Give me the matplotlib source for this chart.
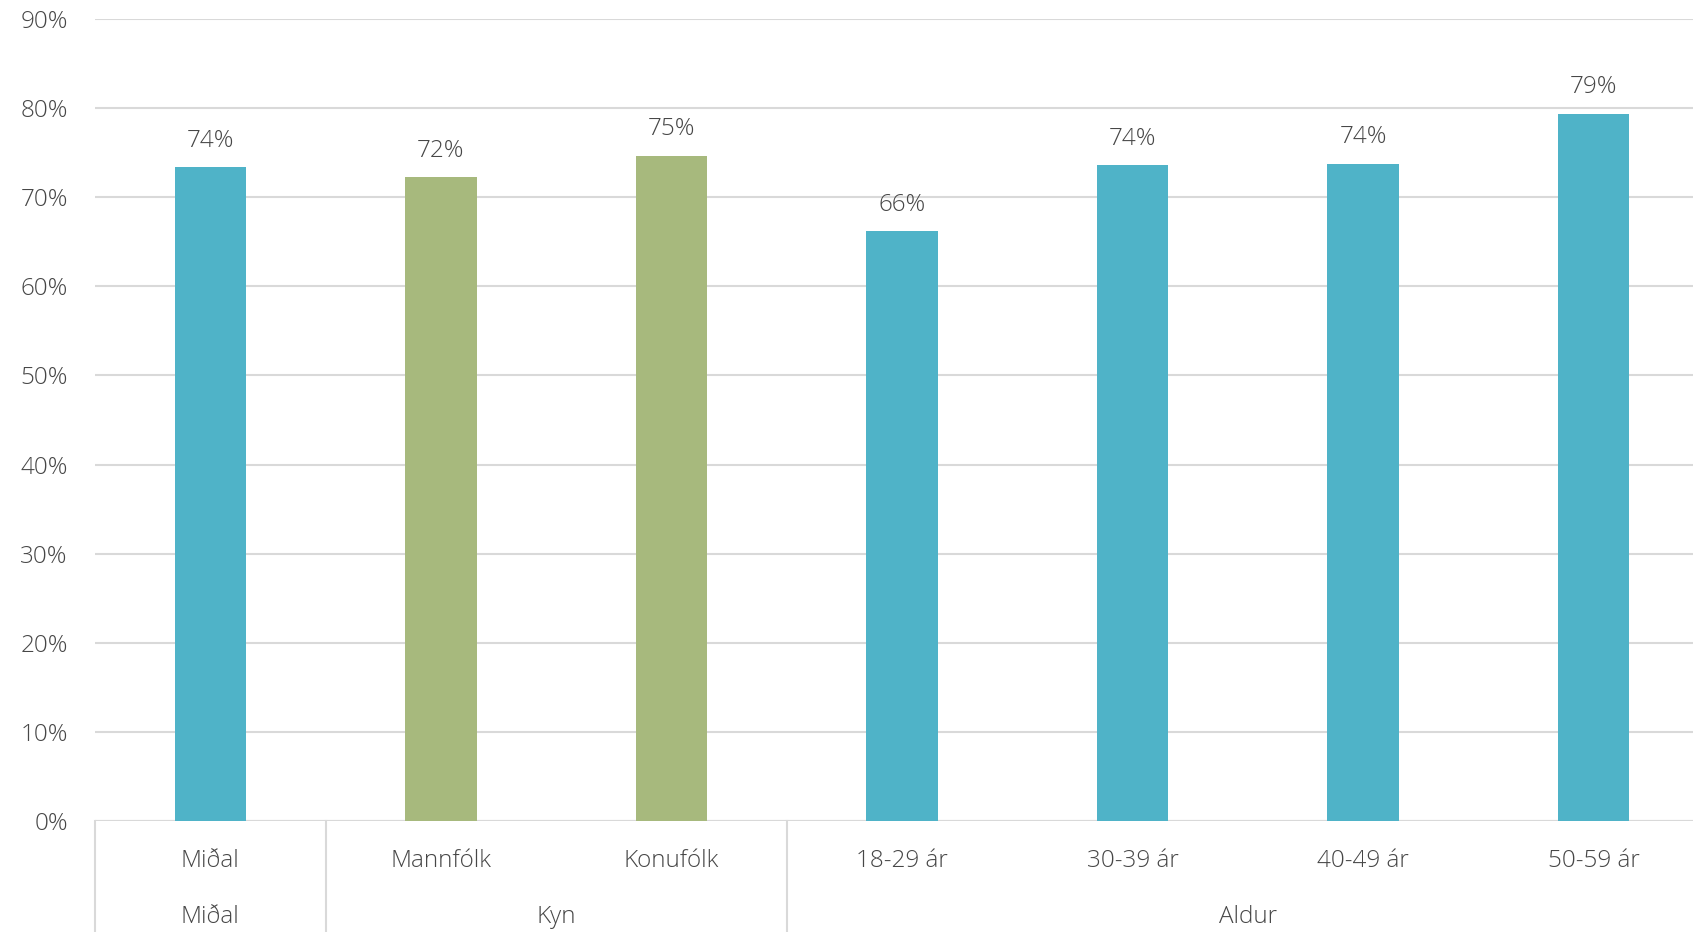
import matplotlib
matplotlib.use("Agg")
import matplotlib.pyplot as plt
import matplotlib.transforms as mtransforms

# Survey share by group
categories = ["Miðal", "Mannfólk", "Konufólk", "18-29 ár", "30-39 ár", "40-49 ár", "50-59 ár"]
values = [0.734, 0.723, 0.747, 0.662, 0.736, 0.738, 0.794]
value_labels = ["74%", "72%", "75%", "66%", "74%", "74%", "79%"]
bar_groups = ["Miðal", "Kyn", "Kyn", "Aldur", "Aldur", "Aldur", "Aldur"]
group_names = ["Miðal", "Kyn", "Aldur"]
y_ticks = [0, 0.1, 0.2, 0.3, 0.4, 0.5, 0.6, 0.7, 0.8, 0.9]

group_colors = {"Miðal": "#4fb3c8", "Kyn": "#a7b97d", "Aldur": "#4fb3c8"}
text_color = "#474747"
grid_color = "#d9d9d9"
fsize = 17.5

plt.rcParams["font.family"] = ["Open Sans", "DejaVu Sans"]
plt.rcParams["font.weight"] = 300


def main() -> None:
    fig = plt.figure(figsize=(16.93, 9.32), dpi=100)
    ax = fig.add_axes([95 / 1693, 111.4 / 932, 1614 / 1693, 801.2 / 932])

    x = list(range(len(categories)))
    colors = [group_colors[g] for g in bar_groups]
    ax.bar(x, values, width=0.31, color=colors, zorder=3)

    for xi, v, lab in zip(x, values, value_labels):
        ax.annotate(lab, (xi, v), xytext=(0, 19), textcoords="offset points",
                    ha="center", va="center", fontsize=fsize, color=text_color)

    ax.set_xlim(-0.5, len(categories) - 0.5)
    ax.set_ylim(0, 0.9)
    ax.set_yticks(y_ticks)
    ax.set_yticklabels([f"{int(round(t * 100))}%" for t in y_ticks])
    ax.tick_params(axis="y", length=0, pad=19.5, labelsize=fsize, labelcolor=text_color)
    ax.set_xticks([])
    ax.grid(axis="y", color=grid_color, linewidth=1.5, zorder=0)
    for s in ax.spines.values():
        s.set_visible(False)
    ax.axhline(0, color=grid_color, linewidth=1.5, zorder=2)

    trans = mtransforms.blended_transform_factory(ax.transData, ax.transAxes)

    # category labels
    for xi, c in zip(x, categories):
        ax.text(xi, -0.0505, c, transform=trans, ha="center", va="center",
                fontsize=fsize, color=text_color)

    # group labels and separators
    start = 0
    for g in group_names:
        n = bar_groups.count(g)
        mid = start + (n - 1) / 2
        ax.text(mid, -0.12, g, transform=trans, ha="center", va="center",
                fontsize=fsize, color=text_color)
        ax.plot([start - 0.5, start - 0.5], [0, -0.2], transform=trans,
                color=grid_color, linewidth=1.5, clip_on=False)
        start += n

    fig.savefig("out.png", dpi=100)


if __name__ == '__main__':
    main()
